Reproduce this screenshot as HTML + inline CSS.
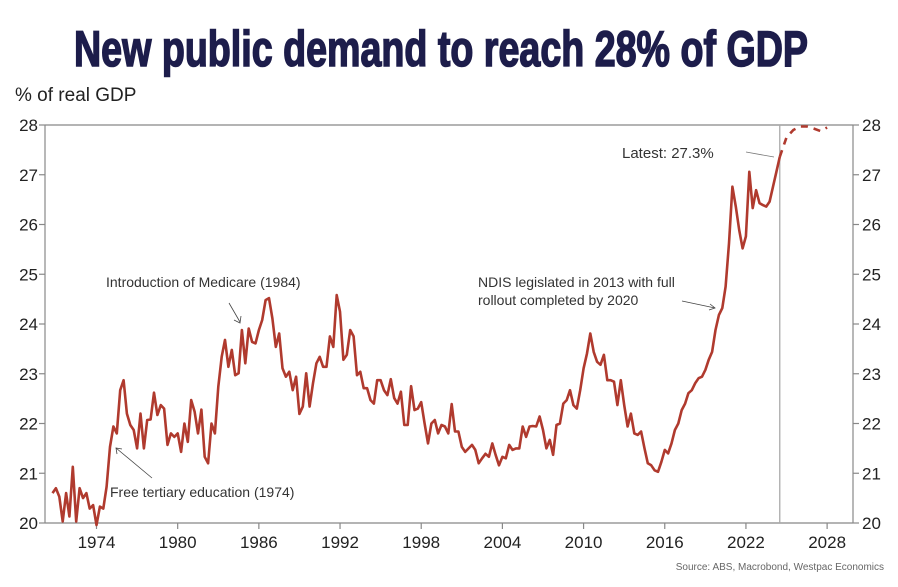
<!DOCTYPE html>
<html><head><meta charset="utf-8"><style>
html,body{margin:0;padding:0;background:#fff;}
svg{display:block;font-family:"Liberation Sans",sans-serif;}
</style></head><body>
<svg id="chart" width="898" height="587" viewBox="0 0 898 587" xmlns="http://www.w3.org/2000/svg">
<rect width="898" height="587" fill="#fff"/>
<text x="441" y="66" text-anchor="middle" font-family="'Liberation Sans Narrow','Liberation Sans',sans-serif" font-weight="bold" font-size="50" fill="#1d1d4b" stroke="#1d1d4b" stroke-width="1.6" textLength="734" lengthAdjust="spacingAndGlyphs">New public demand to reach 28% of GDP</text>
<text x="15" y="101" font-size="19" fill="#222">% of real GDP</text>
<g id="axes"></g>
<g id="series"></g>
<g font-size="14" fill="#333">
<text x="106" y="287">Introduction of Medicare (1984)</text>
<line x1="229" y1="303" x2="240" y2="322" stroke="#444" stroke-width="0.8"/>
<polyline points="234,320 240,323 241,316" fill="none" stroke="#444" stroke-width="0.8"/>
<text x="110" y="497">Free tertiary education (1974)</text>
<line x1="152" y1="478" x2="116" y2="448" stroke="#444" stroke-width="0.8"/>
<polyline points="117,454 116,448 122,449" fill="none" stroke="#444" stroke-width="0.8"/>
<text x="478" y="287">NDIS legislated in 2013 with full</text>
<text x="478" y="305">rollout completed by 2020</text>
<line x1="682" y1="301" x2="715" y2="308" stroke="#444" stroke-width="0.8"/>
<polyline points="710,304 715,308 709,310" fill="none" stroke="#444" stroke-width="0.8"/>
<text x="622" y="158" font-size="15">Latest: 27.3%</text>
<line x1="746" y1="152" x2="774" y2="157" stroke="#777" stroke-width="0.8"/>
</g>
<text x="884" y="570" text-anchor="end" font-size="10" fill="#666">Source: ABS, Macrobond, Westpac Economics</text>
</svg>
<script>
const startYear = 1970.75;
const values = [
20.60,20.70,20.53,20.03,20.60,20.13,21.13,20.03,20.70,20.50,20.60,20.29,20.36,19.96,20.33,20.29,20.73,21.53,21.94,21.80,22.67,22.87,22.20,21.97,21.87,21.50,22.20,21.50,22.07,22.08,22.62,22.17,22.37,22.30,21.57,21.80,21.73,21.80,21.43,22.00,21.63,22.47,22.24,21.80,22.28,21.33,21.20,22.00,21.80,22.74,23.34,23.68,23.14,23.48,22.97,23.01,23.88,23.21,23.91,23.64,23.61,23.88,24.08,24.48,24.52,24.11,23.54,23.81,23.11,22.94,23.04,22.67,22.94,22.19,22.34,23.01,22.34,22.81,23.21,23.34,23.14,23.14,23.75,23.54,24.58,24.25,23.28,23.38,23.88,23.75,22.97,23.04,22.71,22.71,22.47,
22.40,22.87,22.87,22.67,22.57,22.89,22.51,22.40,22.64,21.97,21.97,22.75,22.27,22.30,22.43,22.00,21.60,22.00,22.07,21.80,21.97,21.94,21.80,22.39,21.84,21.84,21.53,21.43,21.50,21.57,21.47,21.20,21.30,21.39,21.33,21.60,21.37,21.16,21.33,21.30,21.57,21.47,21.50,21.50,21.94,21.73,21.94,21.95,21.94,22.14,21.87,21.50,21.67,21.37,21.97,22.00,22.40,22.47,22.67,22.37,22.30,22.67,23.11,23.41,23.81,23.44,23.24,23.18,23.38,22.87,22.87,22.84,22.37,22.87,22.37,21.94,22.20,21.80,21.77,21.84,21.50,21.20,21.16,21.06,21.03,21.23,21.47,
21.40,21.60,21.87,22.00,22.27,22.40,22.61,22.67,22.81,22.91,22.94,23.08,23.28,23.44,23.88,24.18,24.32,24.75,25.62,26.76,26.36,25.89,25.52,25.76,27.06,26.33,26.69,26.43,26.39,26.36,26.46,26.76,27.06,27.36];
const forecastYears = [2024.5,2025,2025.5,2026,2026.5,2027,2027.5,2028];
const forecastValues = [27.36,27.75,27.9,27.97,27.97,27.93,27.88,27.95];
const yTicks = [20,21,22,23,24,25,26,27,28];
const xTicks = [1974,1980,1986,1992,1998,2004,2010,2016,2022,2028];
const latestYear = 2024.5;

const NS="http://www.w3.org/2000/svg";
const L=45,R=853,T=125,B=523;
const xs=y=>96.5+(y-1974)*13.53;
const ys=v=>B-(v-20)*(B-T)/8;
function mk(tag,attrs,parent){const e=document.createElementNS(NS,tag);for(const k in attrs)e.setAttribute(k,attrs[k]);parent.appendChild(e);return e;}
const axes=document.getElementById('axes');
const ser=document.getElementById('series');
const ac="#888";
let e;
e=mk('line',{x1:L,y1:T,x2:R,y2:T,stroke:ac,'stroke-width':1.2},axes);


e=mk('line',{x1:L,y1:T,x2:L,y2:B,stroke:ac,'stroke-width':1.2},axes);


e=mk('line',{x1:R,y1:T,x2:R,y2:B,stroke:ac,'stroke-width':1.2},axes);


e=mk('line',{x1:L,y1:B,x2:R,y2:B,stroke:ac,'stroke-width':1.2},axes);


yTicks.forEach(v=>{
 const y=ys(v);
 mk('line',{x1:L-6,y1:y,x2:L,y2:y,stroke:ac,'stroke-width':1.2},axes);
 mk('line',{x1:R,y1:y,x2:R+6,y2:y,stroke:ac,'stroke-width':1.2},axes);
 let t=mk('text',{x:L-7,y:y+6,'text-anchor':'end','font-size':17,fill:'#222'},axes);t.textContent=v;
 
 
 t=mk('text',{x:R+9,y:y+6,'font-size':17,fill:'#222'},axes);t.textContent=v;
 
 
});
xTicks.forEach(yr=>{
 const x=xs(yr);
 mk('line',{x1:x,y1:B,x2:x,y2:B+6,stroke:ac,'stroke-width':1.2},axes);
 const t=mk('text',{x:x,y:B+25,'text-anchor':'middle','font-size':17,fill:'#222'},axes);t.textContent=yr;
 
 
});
e=mk('line',{x1:xs(latestYear),y1:T,x2:xs(latestYear),y2:B,stroke:'#aaa','stroke-width':1.3},axes);


const pts=values.map((v,i)=>xs(startYear+i*0.25).toFixed(1)+','+ys(v).toFixed(1)).join(' ');
e=mk('polyline',{points:pts,fill:'none',stroke:'#b03a2e','stroke-width':2.6,'stroke-linejoin':'round'},ser);


const fpts=forecastYears.map((y,i)=>xs(y).toFixed(1)+','+ys(forecastValues[i]).toFixed(1)).join(' ');
e=mk('polyline',{points:fpts,fill:'none',stroke:'#b03a2e','stroke-width':2.6,'stroke-dasharray':'7,6'},ser);


</script>
</body></html>
